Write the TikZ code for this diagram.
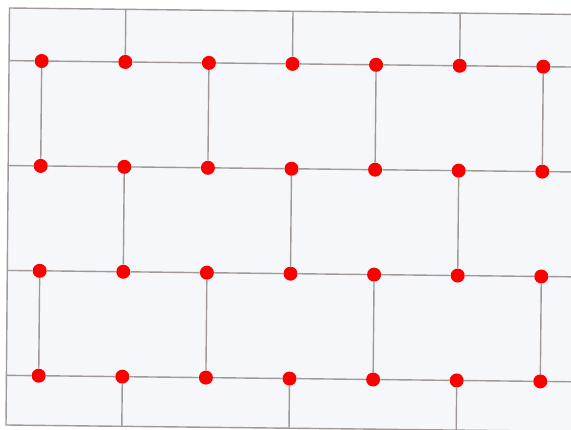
\documentclass[tikz,border=0pt]{standalone}
\usetikzlibrary{calc}
\definecolor{linegray}{RGB}{160,153,151}
\definecolor{dotred}{RGB}{252,0,0}
\definecolor{bgfill}{RGB}{246,247,250}
\begin{document}
\begin{tikzpicture}[x=1pt,y=-1pt,
  grid/.style={draw=linegray,line width=1.4pt},
  dot/.style={circle,fill=dotred,inner sep=0pt,minimum size=14pt}]
\useasboundingbox (0,0) rectangle (571,429);
\clip (0,0) rectangle (571,429);
\fill[white] (0,0) rectangle (571,429);
% frame corners
\coordinate (TL) at (9.5,8);
\coordinate (TR) at (580,14.5);
\coordinate (BL) at (6,425);
\coordinate (BR) at (580,431.5);
\fill[bgfill] (TL) -- (TR) -- (BR) -- (BL) -- cycle;
% dot positions
\foreach \r in {1,...,4}{
  \foreach \c in {1,...,7}{
    \coordinate (p\r\c) at ({41.7+(\c-1)*83.6-(\r-1)*1.0},{61+(\r-1)*104.9+(\c-1)*0.95});
    \node[dot] (d\r\c) at (p\r\c) {};
  }
}
% frame
\draw[grid] (TR) -- (TL) -- (BL) -- (BR);
% horizontal rows
\foreach \r in {1,...,4}{
  \coordinate (L\r) at ($(p\r1)!-0.39!(p\r2)$);
  \coordinate (R\r) at ($(p\r7)!-0.5!(p\r6)$);
  \draw[grid] (L\r) -- (d\r1);
  \draw[grid] (d\r7) -- (R\r);
  \foreach \c [evaluate=\c as \n using int(\c+1)] in {1,...,6}{
    \draw[grid] (d\r\c) -- (d\r\n);
  }
}
% vertical segments
\foreach \c in {2,4,6}{
  \coordinate (T\c) at ($(p1\c)!-0.505!(p2\c)$);
  \coordinate (B\c) at ($(p4\c)!-0.473!(p3\c)$);
  \draw[grid] (T\c) -- (d1\c);
  \draw[grid] (d2\c) -- (d3\c);
  \draw[grid] (d4\c) -- (B\c);
}
\foreach \c in {1,3,5,7}{
  \draw[grid] (d1\c) -- (d2\c);
  \draw[grid] (d3\c) -- (d4\c);
}
\end{tikzpicture}
\end{document}
